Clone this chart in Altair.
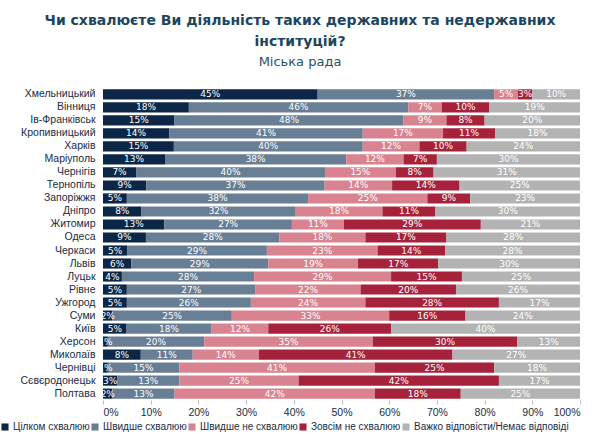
import altair as alt
import pandas as pd

cities = [
    "Хмельницький", "Вінниця", "Ів-Франківськ", "Кропивницький", "Харків",
    "Маріуполь", "Чернігів", "Тернопіль", "Запоріжжя", "Дніпро", "Житомир",
    "Одеса", "Черкаси", "Львів", "Луцьк", "Рівне", "Ужгород", "Суми", "Київ",
    "Херсон", "Миколаїв", "Чернівці", "Сєвєродонецьк", "Полтава",
]

categories = [
    "Цілком схвалюю",
    "Швидше схвалюю",
    "Швидше не схвалюю",
    "Зовсім не схвалюю",
    "Важко відповісти/Немає відповіді",
]

fully_approve = [45, 18, 15, 14, 15, 13, 7, 9, 5, 8, 13, 9, 5, 6, 4, 5, 5, 2, 5, 1, 8, 1, 3, 2]
rather_approve = [37, 46, 48, 41, 40, 38, 40, 37, 38, 32, 27, 28, 29, 29, 28, 27, 26, 25, 18, 20, 11, 15, 13, 13]
rather_not = [5, 7, 9, 17, 12, 12, 15, 14, 25, 18, 11, 18, 23, 19, 29, 22, 24, 33, 12, 35, 14, 41, 25, 42]
not_at_all = [3, 10, 8, 11, 10, 7, 8, 14, 9, 11, 29, 17, 14, 17, 15, 20, 28, 16, 26, 30, 41, 25, 42, 18]
hard_to_say = [10, 19, 20, 18, 24, 30, 31, 25, 23, 30, 21, 28, 28, 30, 25, 26, 17, 24, 40, 13, 27, 18, 17, 25]

colors = ["#0c2647", "#687e95", "#d8838f", "#a6223b", "#b3b3b3"]

series = [fully_approve, rather_approve, rather_not, not_at_all, hard_to_say]
rows = []
for ci, city in enumerate(cities):
    for k, cat in enumerate(categories):
        rows.append({"city": city, "category": cat, "order": k, "value": series[k][ci]})
df = pd.DataFrame(rows)

font = "DejaVu Sans"
label_font = "Liberation Sans"
ink = "#1a2b45"

base = alt.Chart(df).transform_stack(
    stack="value",
    groupby=["city"],
    sort=[alt.SortField("order", order="ascending")],
    as_=["v0", "v1"],
    offset="normalize",
).transform_calculate(
    mid="(datum.v0 + datum.v1) / 2",
    label="datum.value + '%'",
)

y_enc = alt.Y(
    "city:N",
    sort=cities,
    title=None,
    scale=alt.Scale(paddingInner=0.22, paddingOuter=0.1),
    axis=alt.Axis(
        labelFont=label_font, labelFontSize=10.5, labelColor=ink,
        labelPadding=8, ticks=False, domain=False,
    ),
)

bars = base.mark_bar().encode(
    x=alt.X(
        "v0:Q",
        scale=alt.Scale(domain=[0, 1]),
        title=None,
        axis=alt.Axis(
            format="%", values=[i / 10 for i in range(11)], grid=False,
            domain=False, tickColor="#bbbbbb", tickSize=4,
            labelFont=label_font, labelFontSize=10.5, labelColor=ink, labelPadding=3,
        ),
    ),
    x2="v1:Q",
    y=y_enc,
    color=alt.Color(
        "category:N",
        sort=categories,
        scale=alt.Scale(domain=categories, range=colors),
        legend=alt.Legend(
            title=None, orient="none", direction="horizontal",
            legendX=-103, legendY=334,
            symbolType="square", symbolSize=50, symbolStrokeWidth=0,
            labelFont=label_font, labelFontSize=10, labelColor=ink,
            columnPadding=-6, labelOffset=3, labelLimit=300,
        ),
    ),
    order=alt.Order("order:Q"),
)

labels = base.mark_text(
    color="white", font=font, fontSize=9, baseline="middle", align="center",
).encode(
    x=alt.X("mid:Q"),
    y=alt.Y("city:N", sort=cities),
    text="label:N",
)

chart = alt.layer(bars, labels).properties(
    width=477,
    height=312,
    padding={"left": 103, "top": 88, "right": 20, "bottom": 37},
    autosize=alt.AutoSizeParams(type="none"),
    title=alt.TitleParams(
        text=["Чи схвалюєте Ви діяльність таких державних та недержавних", "інституцій?"],
        subtitle="Міська рада",
        anchor="start",
        frame="group",
        align="center",
        dx=197,
        offset=19,
        font=font,
        fontSize=14,
        fontWeight="bold",
        color="#1c465f",
        lineHeight=21,
        subtitleFont=font,
        subtitleFontSize=13,
        subtitleColor="#245369",
        subtitlePadding=7,
    ),
).configure_view(stroke=None)

chart.save("out.html", embed_options={"renderer": "svg", "actions": False})
